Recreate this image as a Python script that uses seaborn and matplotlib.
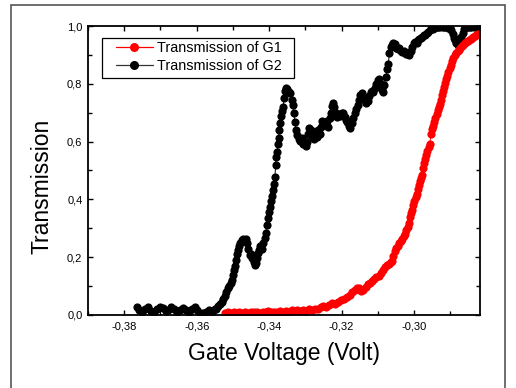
import numpy as np
import seaborn as sns
import matplotlib.pyplot as plt
from matplotlib.patches import Rectangle
from matplotlib.ticker import MultipleLocator, FuncFormatter

# Transmission of G2 (black) : gate voltage (V), transmission
g2_volt = [
    -0.3765, -0.3758, -0.3750, -0.3742, -0.3734, -0.3726, -0.3718, -0.3710, -0.3702, -0.3694,
    -0.3686, -0.3678, -0.3670, -0.3662, -0.3654, -0.3646, -0.3638, -0.3630, -0.3622, -0.3614,
    -0.3606, -0.3598, -0.3590, -0.3582, -0.3574, -0.3566, -0.3558, -0.3550, -0.3546, -0.3540,
    -0.3535, -0.3530, -0.3526, -0.3522, -0.3518, -0.3514, -0.3510, -0.3506, -0.3503, -0.3500,
    -0.3497, -0.3494, -0.3492, -0.3490, -0.3487, -0.3484, -0.3480, -0.3476, -0.3472, -0.3468,
    -0.3464, -0.3460, -0.3457, -0.3454, -0.3450, -0.3446, -0.3442, -0.3439, -0.3436, -0.3433,
    -0.3430, -0.3427, -0.3424, -0.3420, -0.3416, -0.3412, -0.3409, -0.3406, -0.3403, -0.3400,
    -0.3397, -0.3394, -0.3391, -0.3388, -0.3386, -0.3384, -0.3382, -0.3380, -0.3378, -0.3376,
    -0.3374, -0.3372, -0.3370, -0.3367, -0.3364, -0.3361, -0.3359, -0.3357, -0.3354, -0.3350,
    -0.3346, -0.3342, -0.3338, -0.3335, -0.3332, -0.3329, -0.3326, -0.3322, -0.3318, -0.3314,
    -0.3310, -0.3306, -0.3302, -0.3298, -0.3295, -0.3292, -0.3289, -0.3285, -0.3281, -0.3277,
    -0.3273, -0.3269, -0.3265, -0.3261, -0.3257, -0.3253, -0.3249, -0.3245, -0.3241, -0.3237,
    -0.3233, -0.3229, -0.3226, -0.3223, -0.3220, -0.3216, -0.3212, -0.3208, -0.3204, -0.3200,
    -0.3196, -0.3192, -0.3188, -0.3184, -0.3180, -0.3176, -0.3172, -0.3168, -0.3164, -0.3160,
    -0.3156, -0.3152, -0.3148, -0.3144, -0.3140, -0.3136, -0.3132, -0.3128, -0.3124, -0.3120,
    -0.3116, -0.3112, -0.3108, -0.3104, -0.3100, -0.3096, -0.3092, -0.3088, -0.3085, -0.3082,
    -0.3078, -0.3074, -0.3071, -0.3068, -0.3065, -0.3061, -0.3057, -0.3053, -0.3049, -0.3045,
    -0.3041, -0.3037, -0.3033, -0.3029, -0.3025, -0.3021, -0.3017, -0.3013, -0.3009, -0.3005,
    -0.3001, -0.2997, -0.2993, -0.2989, -0.2985, -0.2981, -0.2977, -0.2973, -0.2969, -0.2965,
    -0.2961, -0.2957, -0.2953, -0.2949, -0.2945, -0.2941, -0.2937, -0.2933, -0.2929, -0.2925,
    -0.2921, -0.2917, -0.2913, -0.2909, -0.2905, -0.2901, -0.2897, -0.2893, -0.2890, -0.2887,
    -0.2884, -0.2880, -0.2877, -0.2874, -0.2870, -0.2866, -0.2862, -0.2858, -0.2854, -0.2850,
    -0.2846, -0.2842, -0.2838, -0.2834, -0.2830, -0.2826, -0.2822, -0.2819,
]
g2_trans = [
    0.029, 0.018, 0.012, 0.022, 0.026, 0.015, 0.010, 0.020, 0.027, 0.024,
    0.014, 0.019, 0.028, 0.021, 0.012, 0.016, 0.024, 0.018, 0.011, 0.020,
    0.029, 0.017, 0.008, 0.006, 0.010, 0.016, 0.012, 0.020, 0.022, 0.030,
    0.038, 0.045, 0.055, 0.065, 0.078, 0.092, 0.100, 0.110, 0.122, 0.140,
    0.155, 0.170, 0.190, 0.212, 0.225, 0.238, 0.250, 0.260, 0.262, 0.258,
    0.262, 0.250, 0.228, 0.208, 0.212, 0.198, 0.185, 0.172, 0.180, 0.198,
    0.215, 0.225, 0.238, 0.230, 0.250, 0.268, 0.285, 0.312, 0.335, 0.355,
    0.372, 0.395, 0.412, 0.433, 0.455, 0.479, 0.520, 0.545, 0.565, 0.590,
    0.611, 0.640, 0.663, 0.688, 0.705, 0.720, 0.750, 0.775, 0.785, 0.782,
    0.770, 0.768, 0.745, 0.725, 0.700, 0.668, 0.640, 0.622, 0.610, 0.602,
    0.612, 0.590, 0.600, 0.585, 0.600, 0.625, 0.648, 0.640, 0.618, 0.610,
    0.630, 0.617, 0.640, 0.625, 0.650, 0.672, 0.668, 0.660, 0.672, 0.652,
    0.680, 0.700, 0.722, 0.733, 0.718, 0.700, 0.685, 0.695, 0.690, 0.700,
    0.698, 0.685, 0.675, 0.668, 0.655, 0.648, 0.665, 0.680, 0.698, 0.712,
    0.728, 0.745, 0.760, 0.768, 0.755, 0.745, 0.735, 0.742, 0.758, 0.770,
    0.774, 0.772, 0.785, 0.800, 0.812, 0.815, 0.800, 0.780, 0.772, 0.795,
    0.825, 0.850, 0.870, 0.905, 0.928, 0.935, 0.942, 0.938, 0.925, 0.920,
    0.925, 0.915, 0.910, 0.915, 0.908, 0.904, 0.906, 0.900, 0.912, 0.928,
    0.940, 0.945, 0.942, 0.950, 0.955, 0.960, 0.963, 0.968, 0.970, 0.975,
    0.978, 0.985, 0.988, 0.990, 0.993, 0.995, 0.997, 0.998, 0.997, 0.999,
    0.998, 0.996, 0.998, 0.997, 0.994, 0.992, 0.986, 0.972, 0.960, 0.950,
    0.942, 0.935, 0.936, 0.948, 0.962, 0.975, 0.990, 0.998, 0.996, 0.998,
    0.995, 0.997, 0.999, 0.996, 0.998, 0.995, 0.997, 0.996,
]

# Transmission of G1 (red)
g1_volt = [
    -0.3522, -0.3514, -0.3506, -0.3498, -0.3490, -0.3482, -0.3474, -0.3466, -0.3458, -0.3450,
    -0.3442, -0.3434, -0.3426, -0.3418, -0.3410, -0.3402, -0.3394, -0.3386, -0.3378, -0.3370,
    -0.3362, -0.3354, -0.3346, -0.3338, -0.3330, -0.3322, -0.3314, -0.3306, -0.3298, -0.3290,
    -0.3282, -0.3274, -0.3266, -0.3258, -0.3250, -0.3242, -0.3234, -0.3226, -0.3218, -0.3210,
    -0.3202, -0.3194, -0.3186, -0.3178, -0.3170, -0.3164, -0.3158, -0.3152, -0.3146, -0.3140,
    -0.3134, -0.3128, -0.3122, -0.3116, -0.3110, -0.3104, -0.3098, -0.3092, -0.3086, -0.3080,
    -0.3075, -0.3070, -0.3065, -0.3061, -0.3057, -0.3053, -0.3049, -0.3045, -0.3041, -0.3037,
    -0.3033, -0.3029, -0.3025, -0.3021, -0.3018, -0.3015, -0.3011, -0.3008, -0.3005, -0.3002,
    -0.2999, -0.2996, -0.2993, -0.2990, -0.2987, -0.2984, -0.2981, -0.2978, -0.2975, -0.2972,
    -0.2969, -0.2966, -0.2963, -0.2960, -0.2957, -0.2953, -0.2950, -0.2947, -0.2944, -0.2941,
    -0.2938, -0.2935, -0.2932, -0.2929, -0.2926, -0.2923, -0.2920, -0.2917, -0.2914, -0.2911,
    -0.2908, -0.2905, -0.2902, -0.2899, -0.2896, -0.2892, -0.2888, -0.2884, -0.2880, -0.2876,
    -0.2872, -0.2868, -0.2864, -0.2860, -0.2856, -0.2852, -0.2848, -0.2844, -0.2840, -0.2836,
    -0.2832, -0.2828, -0.2824, -0.2820,
]
g1_trans = [
    0.006, 0.009, 0.007, 0.010, 0.008, 0.011, 0.007, 0.010, 0.008, 0.012,
    0.009, 0.011, 0.008, 0.012, 0.010, 0.013, 0.009, 0.012, 0.010, 0.014,
    0.011, 0.015, 0.012, 0.017, 0.013, 0.016, 0.014, 0.018, 0.015, 0.020,
    0.017, 0.022, 0.020, 0.026, 0.030, 0.028, 0.034, 0.040, 0.038, 0.045,
    0.052, 0.056, 0.062, 0.070, 0.078, 0.086, 0.094, 0.092, 0.082, 0.086,
    0.098, 0.106, 0.112, 0.118, 0.124, 0.130, 0.136, 0.145, 0.155, 0.165,
    0.173, 0.178, 0.182, 0.188, 0.205, 0.222, 0.232, 0.240, 0.248, 0.255,
    0.262, 0.272, 0.282, 0.294, 0.305, 0.318, 0.340, 0.352, 0.365, 0.380,
    0.395, 0.408, 0.420, 0.435, 0.450, 0.462, 0.475, 0.486, 0.510, 0.525,
    0.540, 0.555, 0.568, 0.580, 0.592, 0.625, 0.642, 0.655, 0.668, 0.682,
    0.695, 0.708, 0.718, 0.730, 0.745, 0.760, 0.775, 0.790, 0.802, 0.815,
    0.828, 0.842, 0.855, 0.866, 0.878, 0.888, 0.898, 0.905, 0.912, 0.918,
    0.924, 0.930, 0.935, 0.940, 0.944, 0.949, 0.952, 0.955, 0.958, 0.962,
    0.965, 0.968, 0.971, 0.974,
]

x_ticks = [-0.38, -0.36, -0.34, -0.32, -0.30]
y_ticks = [0.0, 0.2, 0.4, 0.6, 0.8, 1.0]

sns.set_style("ticks")
plt.rcParams["font.family"] = ["Liberation Sans", "DejaVu Sans"]
plt.rcParams["text.color"] = "black"
plt.rcParams["axes.labelcolor"] = "black"

fig = plt.figure(figsize=(5.16, 3.88), dpi=100)
ax = fig.add_axes([88 / 516, 73 / 388, 392 / 516, 289 / 388])

sns.lineplot(x=g2_volt, y=g2_trans, ax=ax, color="black", lw=0.7, marker="o",
             markersize=5.9, markeredgewidth=0, sort=False, estimator=None)
sns.lineplot(x=g1_volt, y=g1_trans, ax=ax, color="red", lw=0.7, marker="o",
             markersize=5.9, markeredgewidth=0, sort=False, estimator=None)

ax.set_xlim(-0.39, -0.2818)
ax.set_ylim(0.0, 1.0)
ax.set_xticks(x_ticks)
ax.set_yticks(y_ticks)
ax.xaxis.set_minor_locator(MultipleLocator(0.01))
ax.yaxis.set_minor_locator(MultipleLocator(0.1))
ax.xaxis.set_major_formatter(FuncFormatter(lambda v, p: f"{v:.2f}".replace(".", ",")))
ax.yaxis.set_major_formatter(FuncFormatter(lambda v, p: f"{v:.1f}".replace(".", ",")))
ax.tick_params(which="both", direction="in", top=True, right=True, width=1.0,
               colors="black", labelcolor="black", labelsize=8)
ax.tick_params(which="major", length=3.4)
ax.tick_params(which="minor", length=2.8)
ax.tick_params(axis="x", pad=5)
ax.tick_params(axis="y", pad=4)
for s in ax.spines.values():
    s.set_linewidth(1.3)
    s.set_color("black")

ax.set_xlabel("Gate Voltage (Volt)", fontsize=16.5, color="black")
ax.set_ylabel("Transmission", fontsize=16.5, color="black")
ax.xaxis.set_label_coords(0.5, -0.095)
ax.yaxis.set_label_coords(-0.117, 0.446)
ax.yaxis.label.set_verticalalignment("center")

# legend (box drawn separately)
h1 = plt.Line2D([], [], color="red", lw=0.9, marker="o", markersize=6.5, markeredgewidth=0)
h2 = plt.Line2D([], [], color="#333333", lw=0.9, marker="o", markerfacecolor="black",
                markersize=6.5, markeredgewidth=0)
ax.legend([h1, h2], ["Transmission of G1", "Transmission of G2"], loc="upper left",
          bbox_to_anchor=((115.7 - 88) / 392, (315 - 41.5) / 289), frameon=False,
          borderpad=0, borderaxespad=0, handlelength=2.57, handletextpad=0.3,
          labelspacing=0.22, fontsize=10.4, labelcolor="black")
ax.add_patch(Rectangle(((102 - 88) / 392, (315 - 78) / 289), 192 / 392, 40 / 289,
                       transform=ax.transAxes, fill=False, edgecolor="black", lw=0.9,
                       zorder=5))

# outer frame of the page
fig.patches.append(Rectangle((11 / 516, -0.2), 494 / 516, 1.2 - 5 / 388,
                             transform=fig.transFigure, fill=False,
                             edgecolor="#555555", lw=1.2))

fig.savefig("out.png", dpi=100)
